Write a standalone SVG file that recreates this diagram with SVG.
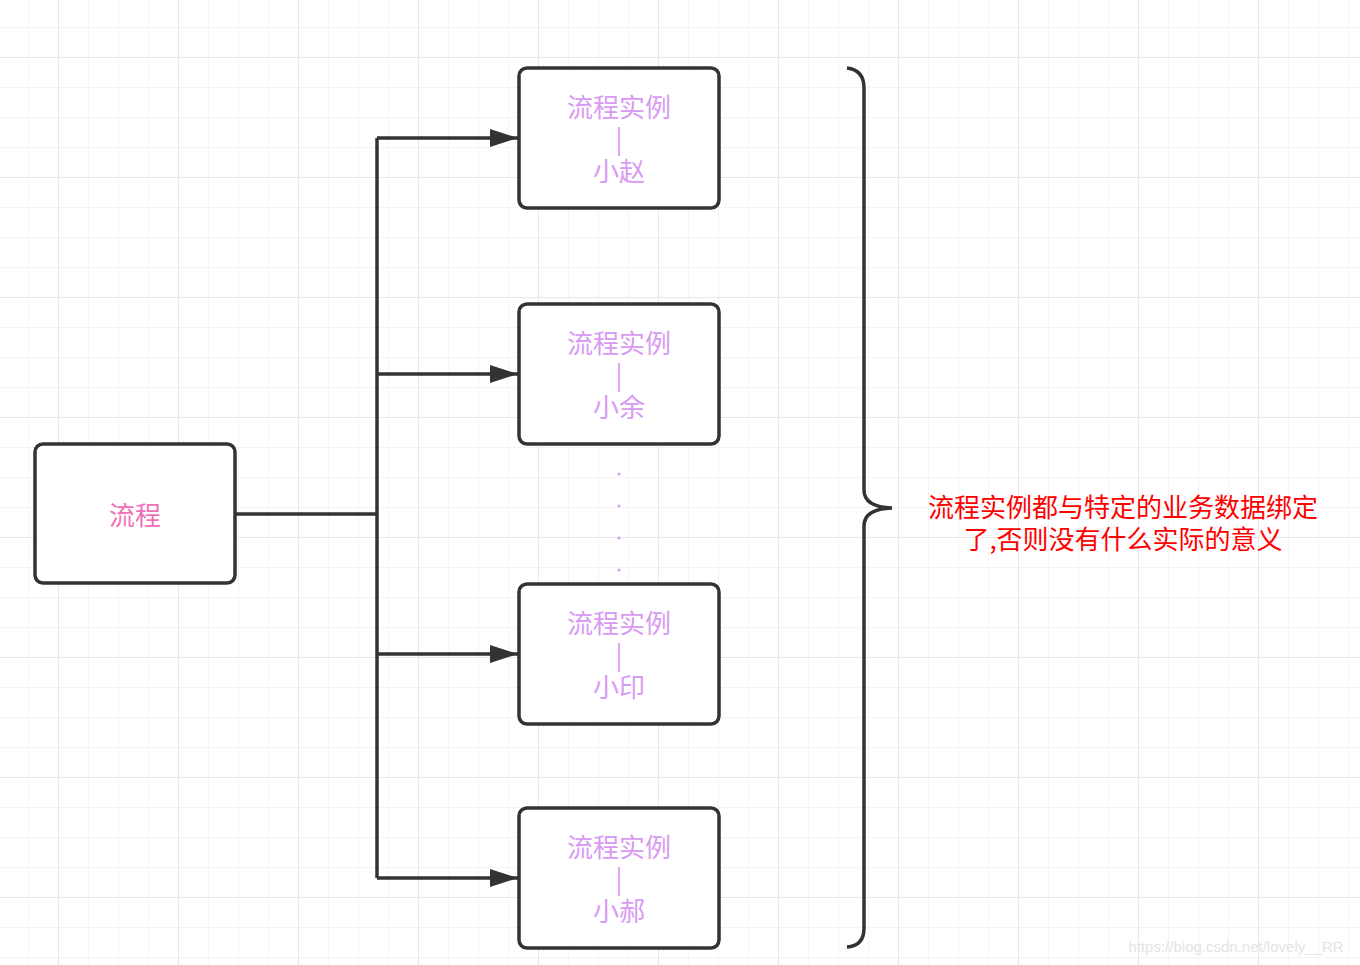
<svg xmlns="http://www.w3.org/2000/svg" width="1360" height="965" viewBox="0 0 1360 965">
<defs>
<pattern id="minor" x="28" y="27" width="30" height="30" patternUnits="userSpaceOnUse">
<path d="M0 0H30M0 0V30" fill="none" stroke="#f1f1f1" stroke-width="1.5"/>
</pattern>
<pattern id="major" x="58" y="57" width="120" height="120" patternUnits="userSpaceOnUse">
<path d="M0 0H120M0 0V120" fill="none" stroke="#e8e8e8" stroke-width="2"/>
</pattern>
<marker id="arrow" markerUnits="userSpaceOnUse" markerWidth="30" markerHeight="20" refX="28" refY="9" orient="auto">
<path d="M0 0L28 9L0 18Z" fill="#333"/>
</marker>
</defs>
<style>
.box{fill:#fff;stroke:#333;stroke-width:3.5}
.inst{font-family:"Noto Sans CJK SC","Liberation Sans",sans-serif;font-size:26px;fill:#d89af2;text-anchor:middle}
.main{font-family:"Noto Sans CJK SC","Liberation Sans",sans-serif;font-size:26px;fill:#f070b8;text-anchor:middle}
.note{font-family:"Noto Sans CJK SC","Liberation Sans",sans-serif;font-size:26px;fill:#ff0000;text-anchor:middle}
.conn{fill:none;stroke:#333;stroke-width:3.5}
</style>
<rect width="1360" height="965" fill="#fff"/>
<rect width="1360" height="965" fill="url(#minor)"/>
<rect width="1360" height="965" fill="url(#major)"/>

<g id="connectors">
<path class="conn" d="M235 514H377"/>
<path class="conn" d="M377 138V878"/>
<path class="conn" d="M377 138H518" marker-end="url(#arrow)"/>
<path class="conn" d="M377 374H518" marker-end="url(#arrow)"/>
<path class="conn" d="M377 654H518" marker-end="url(#arrow)"/>
<path class="conn" d="M377 878H518" marker-end="url(#arrow)"/>
</g>

<g id="node-process">
<rect class="box" x="35" y="444" width="200" height="139" rx="8"/>
<text class="main" x="135" y="525">流程</text>
</g>

<g id="node-zhao">
<rect class="box" x="519" y="68" width="200" height="140" rx="8"/>
<text class="inst"><tspan x="619" y="117">流程实例</tspan><tspan x="619" y="149">|</tspan><tspan x="619" y="181">小赵</tspan></text>
</g>

<g id="node-yu">
<rect class="box" x="519" y="304" width="200" height="140" rx="8"/>
<text class="inst"><tspan x="619" y="353">流程实例</tspan><tspan x="619" y="385">|</tspan><tspan x="619" y="417">小余</tspan></text>
</g>

<g id="dots" fill="#d89af2">
<circle cx="619" cy="474" r="1.5"/>
<circle cx="619" cy="506" r="1.5"/>
<circle cx="619" cy="538" r="1.5"/>
<circle cx="619" cy="570" r="1.5"/>
</g>

<g id="node-yin">
<rect class="box" x="519" y="584" width="200" height="140" rx="8"/>
<text class="inst"><tspan x="619" y="633">流程实例</tspan><tspan x="619" y="665">|</tspan><tspan x="619" y="697">小印</tspan></text>
</g>

<g id="node-hao">
<rect class="box" x="519" y="808" width="200" height="140" rx="8"/>
<text class="inst"><tspan x="619" y="857">流程实例</tspan><tspan x="619" y="889">|</tspan><tspan x="619" y="921">小郝</tspan></text>
</g>

<g id="brace">
<path class="conn" d="M847 68Q864 70 864 88V490Q864 507 892 508Q864 509 864 526V928Q864 946 847 947"/>
</g>

<g id="note">
<text class="note"><tspan x="1123" y="517">流程实例都与特定的业务数据绑定</tspan><tspan x="1123" y="549">了,否则没有什么实际的意义</tspan></text>
</g>

<text x="1236" y="952" font-family="Liberation Sans, sans-serif" font-size="15" fill="#e4e4e4" text-anchor="middle">https://blog.csdn.net/lovely__RR</text>
</svg>
